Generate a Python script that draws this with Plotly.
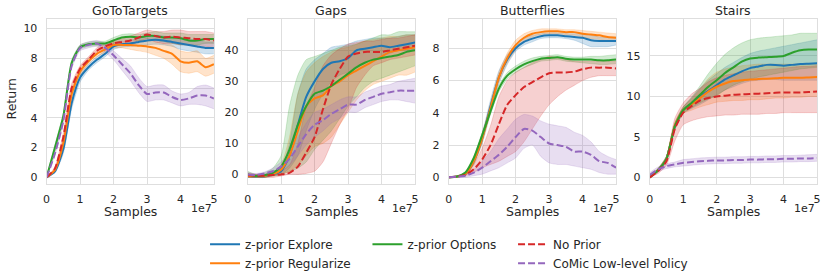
import plotly.graph_objects as go

# ---------------- data (x in units of 1e7 samples) ----------------
SAMPLES_1E7 = [0, 0.25, 0.5, 0.75, 1.0, 1.25, 1.5, 1.75, 2.0, 2.25, 2.5,
               2.75, 3.0, 3.25, 3.5, 3.75, 4.0, 4.25, 4.5, 4.75, 5.0]
X_TICKS = [0, 1, 2, 3, 4, 5]
X_TICK_LABELS = ["0", "1", "2", "3", "4", "5"]

SERIES = ["z-prior Explore", "z-prior Regularize", "z-prior Options",
          "No Prior", "CoMic Low-level Policy"]
PANELS = ["GoToTargets", "Gaps", "Butterflies", "Stairs"]

# GoToTargets
gtt_explore = [0, 0.4, 1.9, 5.0, 6.7, 7.4, 7.9, 8.3, 8.8, 8.95, 9.0, 9.1, 9.2, 9.25, 9.2, 9.1, 9.0, 8.9, 8.8, 8.7, 8.7]
gtt_explore_lo = [0, 0.3, 1.6, 4.6, 6.4, 7.2, 7.7, 8.1, 8.6, 8.75, 8.8, 8.85, 8.9, 8.95, 8.9, 8.8, 8.6, 8.5, 8.4, 8.3, 8.3]
gtt_explore_hi = [0, 0.5, 2.2, 5.4, 7.0, 7.6, 8.1, 8.5, 9.0, 9.15, 9.2, 9.35, 9.5, 9.55, 9.5, 9.4, 9.4, 9.3, 9.2, 9.1, 9.1]
gtt_regularize = [0, 0.5, 2.3, 5.6, 7.1, 7.8, 8.3, 8.6, 8.9, 8.9, 8.9, 8.85, 8.8, 8.7, 8.5, 8.3, 7.8, 7.7, 7.8, 7.4, 7.6]
gtt_regularize_lo = [0, 0.4, 2.0, 5.2, 6.8, 7.6, 8.1, 8.4, 8.7, 8.7, 8.6, 8.5, 8.4, 8.2, 8.0, 7.6, 7.1, 7.0, 7.1, 6.8, 7.0]
gtt_regularize_hi = [0, 0.6, 2.6, 6.0, 7.4, 8.0, 8.5, 8.8, 9.1, 9.1, 9.2, 9.2, 9.2, 9.1, 9.0, 8.9, 8.5, 8.4, 8.5, 8.0, 8.2]
gtt_options = [0, 2.0, 4.1, 7.7, 8.75, 8.95, 9.0, 9.0, 9.2, 9.4, 9.45, 9.4, 9.5, 9.5, 9.4, 9.4, 9.35, 9.2, 9.2, 9.3, 9.3]
gtt_options_lo = [0, 1.8, 3.9, 7.5, 8.6, 8.8, 8.85, 8.85, 9.0, 9.2, 9.25, 9.2, 9.3, 9.2, 9.1, 9.0, 8.9, 8.9, 8.9, 9.0, 9.0]
gtt_options_hi = [0, 2.2, 4.3, 7.9, 8.9, 9.1, 9.15, 9.15, 9.4, 9.6, 9.65, 9.6, 9.7, 9.8, 9.7, 9.7, 9.7, 9.6, 9.6, 9.6, 9.6]
gtt_noprior = [0, 0.6, 2.7, 6.0, 7.3, 7.9, 8.5, 8.8, 9.0, 9.1, 9.2, 9.4, 9.6, 9.5, 9.4, 9.45, 9.4, 9.35, 9.3, 9.3, 9.2]
gtt_noprior_lo = [0, 0.5, 2.4, 5.7, 7.1, 7.7, 8.3, 8.6, 8.8, 8.9, 8.9, 9.1, 9.3, 9.1, 9.0, 9.0, 8.9, 8.9, 8.8, 8.8, 8.7]
gtt_noprior_hi = [0, 0.7, 3.0, 6.3, 7.5, 8.1, 8.7, 9.0, 9.2, 9.3, 9.5, 9.7, 9.9, 9.8, 9.8, 9.9, 9.9, 9.8, 9.8, 9.8, 9.7]
gtt_comic = [0, 1.6, 3.8, 7.5, 8.7, 8.9, 9.0, 8.7, 8.2, 7.6, 7.0, 6.2, 5.6, 5.7, 5.7, 5.4, 5.2, 5.3, 5.5, 5.5, 5.3]
gtt_comic_lo = [0, 1.5, 3.6, 7.3, 8.5, 8.7, 8.8, 8.4, 7.9, 7.2, 6.5, 5.7, 5.1, 5.2, 5.2, 5.0, 4.8, 4.9, 4.9, 4.8, 4.6]
gtt_comic_hi = [0, 1.7, 4.0, 7.7, 8.9, 9.1, 9.2, 9.0, 8.5, 8.0, 7.5, 6.7, 6.1, 6.2, 6.2, 5.8, 5.6, 5.7, 6.1, 6.2, 6.0]

# Gaps
gaps_explore = [-0.5, -0.7, -0.6, 0, 1.0, 6, 16, 25, 30, 34, 36, 36.5, 37.5, 40, 40.5, 41, 41.5, 41, 41.5, 42, 42.5]
gaps_explore_lo = [-1, -1, -1, -0.5, 0, 2, 6, 14, 21, 26, 30, 32, 33, 35, 36, 37, 38, 39, 40, 40, 40]
gaps_explore_hi = [0, 0, 0, 1, 2, 10, 26, 34, 37, 39, 41, 41.5, 42, 43, 43.5, 44, 44, 44, 44.5, 45, 45]
gaps_regularize = [-0.5, -0.6, -0.5, 0, 1.5, 6, 14, 22, 24.5, 25.5, 28.5, 30, 32, 33.5, 35, 36.5, 38, 39.5, 40, 40.5, 41]
gaps_regularize_lo = [-1, -1, -1, -0.5, 0, 1, 3, 6, 9, 10, 12, 16, 20, 24, 27, 29, 30, 31, 32, 32, 33]
gaps_regularize_hi = [0, 0, 0, 0.5, 3, 12, 26, 33, 36, 38, 39.5, 40.5, 41, 42, 43, 43.5, 44, 44.5, 44.5, 45, 45]
gaps_options = [0, -0.5, -0.3, 0.5, 2.5, 8, 16, 22, 26, 27, 28.5, 30.5, 32.5, 34.5, 36, 37, 37.5, 38, 38.5, 39.5, 40]
gaps_options_lo = [-1, -1, -1, -0.5, 0, 1, 2, 4, 8, 11, 14, 18, 22, 25, 28, 30, 31, 32, 33, 34, 35]
gaps_options_hi = [1, 0, 0.5, 2, 6, 22, 32, 37, 38, 39, 40, 41, 41.5, 42, 43, 44, 45, 45, 46, 46, 46]
gaps_noprior = [-0.3, -0.4, -0.4, -0.2, 0, 0.5, 2.5, 7, 12, 21, 29, 34, 38, 39, 39.5, 39.5, 39.5, 40, 40.5, 41, 41.5]
gaps_noprior_lo = [-1, -1, -1, -1, -0.5, 0, 0, 0.3, 1, 4, 10, 16, 21, 28, 32, 35, 36, 37, 37.5, 38, 38.5]
gaps_noprior_hi = [0.5, 0, 0, 0.5, 1, 3, 10, 22, 28, 35, 38.5, 40.5, 42, 42.5, 43, 43, 43.5, 44, 44, 44.5, 45]
gaps_comic = [0, -0.2, 0.3, 1, 2.5, 5, 9, 13, 16, 17.5, 19.5, 21, 22.5, 22.5, 24, 25, 26, 26.5, 27, 27, 27]
gaps_comic_lo = [-0.5, -0.7, -0.2, 0, 1, 3, 6, 9.5, 12, 14, 16.5, 18, 20, 20, 21.5, 22.5, 23.5, 24, 24, 23.5, 23]
gaps_comic_hi = [0.5, 0.3, 0.8, 2, 4, 7, 12, 16.5, 20, 21, 22.5, 24, 25, 25, 26.5, 27.5, 28.5, 29, 30, 30.5, 31]

# Butterflies
bf_explore = [0, 0.05, 0.2, 1.0, 2.4, 4.4, 6.2, 7.3, 8.0, 8.4, 8.6, 8.75, 8.8, 8.8, 8.75, 8.7, 8.65, 8.5, 8.45, 8.45, 8.45]
bf_explore_lo = [0, 0.03, 0.15, 0.8, 2.1, 4.0, 5.8, 7.0, 7.8, 8.2, 8.4, 8.6, 8.65, 8.65, 8.6, 8.5, 8.3, 8.1, 8.1, 8.1, 8.2]
bf_explore_hi = [0, 0.07, 0.25, 1.2, 2.7, 4.8, 6.6, 7.6, 8.2, 8.6, 8.8, 8.9, 8.95, 8.95, 8.9, 8.9, 8.9, 8.8, 8.7, 8.7, 8.7]
bf_regularize = [0, 0.05, 0.2, 1.0, 2.4, 4.3, 6.2, 7.4, 8.2, 8.65, 8.9, 9.0, 9.05, 9.05, 9.0, 9.0, 8.9, 8.85, 8.8, 8.7, 8.65]
bf_regularize_lo = [0, 0.03, 0.15, 0.8, 2.1, 4.0, 5.9, 7.1, 7.9, 8.4, 8.7, 8.85, 8.9, 8.9, 8.85, 8.8, 8.7, 8.6, 8.55, 8.45, 8.4]
bf_regularize_hi = [0, 0.07, 0.25, 1.2, 2.7, 4.6, 6.5, 7.7, 8.5, 8.9, 9.1, 9.2, 9.2, 9.2, 9.15, 9.15, 9.1, 9.05, 9.0, 8.95, 8.9]
bf_options = [0, 0.05, 0.3, 1.2, 2.6, 4.1, 5.5, 6.3, 6.7, 7.0, 7.2, 7.35, 7.4, 7.45, 7.35, 7.3, 7.3, 7.3, 7.25, 7.25, 7.3]
bf_options_lo = [0, 0.03, 0.25, 1.1, 2.4, 3.9, 5.3, 6.1, 6.5, 6.8, 7.0, 7.2, 7.25, 7.3, 7.2, 7.15, 7.1, 7.05, 7.0, 7.0, 7.05]
bf_options_hi = [0, 0.07, 0.35, 1.3, 2.8, 4.3, 5.7, 6.5, 6.9, 7.2, 7.4, 7.5, 7.55, 7.6, 7.5, 7.45, 7.45, 7.5, 7.5, 7.55, 7.6]
bf_noprior = [0, 0.05, 0.15, 0.5, 1.1, 2.0, 3.3, 4.5, 5.1, 5.6, 5.9, 6.2, 6.45, 6.5, 6.5, 6.55, 6.7, 6.8, 6.8, 6.8, 6.75]
bf_noprior_lo = [0, 0, 0.1, 0.3, 0.6, 0.8, 1.0, 1.3, 1.6, 2.2, 3.0, 3.8, 4.5, 5.0, 5.4, 5.7, 6.0, 6.2, 6.3, 6.3, 6.3]
bf_noprior_hi = [0, 0.1, 0.3, 0.8, 1.8, 3.2, 5.0, 6.0, 6.5, 6.8, 7.1, 7.3, 7.5, 7.4, 7.3, 7.2, 7.2, 7.2, 7.2, 7.2, 7.2]
bf_comic = [0, 0.05, 0.1, 0.3, 0.6, 1.0, 1.4, 1.9, 2.5, 3.0, 2.9, 2.5, 2.1, 2.0, 1.9, 1.6, 1.6, 1.4, 1.0, 0.9, 0.6]
bf_comic_lo = [0, 0, 0, 0.1, 0.2, 0.4, 0.6, 0.9, 1.2, 1.8, 2.0, 1.3, 0.9, 0.8, 0.8, 0.7, 0.6, 0.5, 0.3, 0.2, 0.2]
bf_comic_hi = [0, 0.1, 0.2, 0.5, 1.0, 1.6, 2.4, 3.0, 3.6, 3.9, 3.8, 3.5, 3.3, 3.2, 3.1, 2.8, 2.6, 2.2, 1.6, 1.3, 1.1]

# Stairs
st_explore = [0, 0.9, 2.3, 6.3, 8.3, 9.1, 10.0, 10.7, 11.4, 12.1, 12.6, 13.1, 13.5, 13.7, 13.9, 13.9, 13.8, 13.9, 14.0, 14.05, 14.1]
st_explore_lo = [0, 0.7, 2.0, 5.9, 7.9, 8.5, 9.0, 9.6, 10.2, 10.8, 11.2, 11.6, 11.9, 12.0, 12.1, 12.1, 12.0, 12.0, 12.0, 12.0, 12.0]
st_explore_hi = [0, 1.1, 2.6, 6.7, 8.7, 9.8, 11.0, 12.0, 12.8, 13.6, 14.2, 14.8, 15.3, 15.6, 15.8, 16.0, 16.2, 16.4, 16.6, 16.8, 17.0]
st_regularize = [0, 0.9, 2.3, 6.4, 8.3, 9.0, 9.8, 10.6, 11.2, 11.6, 11.9, 12.0, 12.1, 12.15, 12.2, 12.25, 12.3, 12.3, 12.3, 12.35, 12.4]
st_regularize_lo = [0, 0.7, 2.0, 6.0, 7.9, 8.3, 8.7, 9.0, 9.3, 9.4, 9.5, 9.5, 9.6, 9.6, 9.7, 9.8, 9.8, 9.9, 9.9, 10.0, 10.0]
st_regularize_hi = [0, 1.1, 2.6, 6.8, 8.7, 9.7, 10.9, 12.2, 13.0, 13.4, 13.6, 13.8, 13.9, 14.0, 14.0, 14.0, 14.0, 14.0, 14.0, 14.0, 14.0]
st_options = [0, 0.9, 2.3, 6.3, 8.3, 9.2, 10.2, 11.2, 12.0, 12.9, 13.6, 14.3, 14.7, 14.8, 14.85, 14.9, 15.0, 15.4, 15.7, 15.8, 15.8]
st_options_lo = [0, 0.7, 2.0, 5.9, 7.9, 8.6, 9.2, 9.7, 10.1, 10.8, 11.4, 11.8, 12.1, 12.4, 12.6, 12.8, 13.0, 13.2, 13.4, 13.5, 13.6]
st_options_hi = [0, 1.1, 2.6, 6.7, 8.7, 9.9, 11.3, 12.8, 14.1, 15.2, 16.0, 16.6, 17.0, 17.2, 17.3, 17.4, 17.5, 17.6, 17.8, 17.8, 17.8]
st_noprior = [0, 0.8, 2.0, 6.0, 8.0, 8.8, 9.5, 9.8, 10.0, 10.1, 10.2, 10.25, 10.3, 10.35, 10.4, 10.45, 10.5, 10.5, 10.5, 10.55, 10.6]
st_noprior_lo = [0, 0.5, 1.5, 4.5, 6.5, 7.0, 7.3, 7.5, 7.6, 7.7, 7.7, 7.8, 7.8, 7.8, 7.9, 7.9, 8.0, 8.0, 8.0, 8.0, 8.0]
st_noprior_hi = [0.3, 1.1, 2.6, 7.3, 9.2, 10.3, 11.0, 11.8, 12.3, 12.6, 12.8, 13.0, 13.1, 13.2, 13.3, 13.4, 13.5, 13.6, 13.7, 13.7, 13.8]
st_comic = [0.3, 1.0, 1.4, 1.6, 1.8, 1.9, 2.0, 2.05, 2.1, 2.1, 2.15, 2.15, 2.2, 2.2, 2.25, 2.25, 2.3, 2.3, 2.35, 2.35, 2.4]
st_comic_lo = [0.0, 0.7, 1.1, 1.3, 1.4, 1.5, 1.6, 1.65, 1.7, 1.7, 1.75, 1.75, 1.8, 1.8, 1.85, 1.85, 1.9, 1.9, 1.95, 1.95, 2.0]
st_comic_hi = [0.6, 1.3, 1.7, 1.9, 2.2, 2.3, 2.4, 2.45, 2.5, 2.5, 2.55, 2.55, 2.6, 2.6, 2.65, 2.65, 2.7, 2.7, 2.75, 2.8, 2.85]

PANEL_DATA = [
    [(gtt_explore, gtt_explore_lo, gtt_explore_hi), (gtt_regularize, gtt_regularize_lo, gtt_regularize_hi),
     (gtt_options, gtt_options_lo, gtt_options_hi), (gtt_noprior, gtt_noprior_lo, gtt_noprior_hi),
     (gtt_comic, gtt_comic_lo, gtt_comic_hi)],
    [(gaps_explore, gaps_explore_lo, gaps_explore_hi), (gaps_regularize, gaps_regularize_lo, gaps_regularize_hi),
     (gaps_options, gaps_options_lo, gaps_options_hi), (gaps_noprior, gaps_noprior_lo, gaps_noprior_hi),
     (gaps_comic, gaps_comic_lo, gaps_comic_hi)],
    [(bf_explore, bf_explore_lo, bf_explore_hi), (bf_regularize, bf_regularize_lo, bf_regularize_hi),
     (bf_options, bf_options_lo, bf_options_hi), (bf_noprior, bf_noprior_lo, bf_noprior_hi),
     (bf_comic, bf_comic_lo, bf_comic_hi)],
    [(st_explore, st_explore_lo, st_explore_hi), (st_regularize, st_regularize_lo, st_regularize_hi),
     (st_options, st_options_lo, st_options_hi), (st_noprior, st_noprior_lo, st_noprior_hi),
     (st_comic, st_comic_lo, st_comic_hi)],
]
Y_TICKS = [[0, 2, 4, 6, 8, 10], [0, 10, 20, 30, 40], [0, 2, 4, 6, 8], [0, 5, 10, 15]]
Y_RANGES = [[-0.47, 10.66], [-3.2, 50.2], [-0.43, 9.83], [-0.85, 19.6]]

# ---------------- styling ----------------
COLORS = ["31,119,180", "255,127,14", "44,160,44", "214,39,40", "148,103,189"]
DASHES = ["solid", "solid", "solid", "7px,3px", "7px,3px"]
LEGENDS = ["legend", "legend", "legend2", "legend3", "legend3"]
W, H = 830, 278
X_DOMAINS_PX = [(43, 212), (246, 415), (449, 618), (652, 821)]
Y_DOMAIN_PX = (19, 187)
FONT = "DejaVu Sans"
TXT = "#262626"
GRID = "#dedede"


def px_x(v):
    return v / W


def px_y(v):
    return 1 - v / H


fig = go.Figure()
ydom = [px_y(Y_DOMAIN_PX[1]), px_y(Y_DOMAIN_PX[0])]

for p, panel in enumerate(PANELS):
    xa = "x" if p == 0 else f"x{p+1}"
    ya = "y" if p == 0 else f"y{p+1}"
    for s, name in enumerate(SERIES):
        mean, lo, hi = PANEL_DATA[p][s]
        c = COLORS[s]
        fig.add_trace(go.Scatter(x=SAMPLES_1E7, y=lo, xaxis=xa, yaxis=ya, mode="lines",
                                 line=dict(width=0.6, color=f"rgba({c},0.3)", shape="spline", smoothing=0.6),
                                 showlegend=False, hoverinfo="skip"))
        fig.add_trace(go.Scatter(x=SAMPLES_1E7, y=hi, xaxis=xa, yaxis=ya, mode="lines",
                                 line=dict(width=0.6, color=f"rgba({c},0.3)", shape="spline", smoothing=0.6),
                                 fill="tonexty", fillcolor=f"rgba({c},0.22)",
                                 showlegend=False, hoverinfo="skip"))
    for s, name in enumerate(SERIES):
        mean, lo, hi = PANEL_DATA[p][s]
        c = COLORS[s]
        fig.add_trace(go.Scatter(x=SAMPLES_1E7, y=mean, xaxis=xa, yaxis=ya, mode="lines", name=name,
                                 line=dict(width=2, color=f"rgb({c})", dash=DASHES[s], shape="spline", smoothing=0.6),
                                 showlegend=(p == 0), legend=LEGENDS[s]))

    x0, x1 = X_DOMAINS_PX[p]
    xkey = "xaxis" if p == 0 else f"xaxis{p+1}"
    ykey = "yaxis" if p == 0 else f"yaxis{p+1}"
    fig.layout[xkey] = dict(domain=[px_x(x0), px_x(x1)], anchor=ya, range=[0, 5],
                            tickvals=X_TICKS, ticktext=X_TICK_LABELS,
                            showgrid=True, gridcolor=GRID, gridwidth=1, zeroline=False,
                            showline=True, linecolor=GRID, linewidth=1, mirror=True,
                            ticks="", ticklabelstandoff=4,
                            tickfont=dict(family=FONT, size=11, color=TXT))
    fig.layout[ykey] = dict(domain=ydom, anchor=xa, range=Y_RANGES[p], tickvals=Y_TICKS[p],
                            showgrid=True, gridcolor=GRID, gridwidth=1, zeroline=False,
                            showline=True, linecolor=GRID, linewidth=1, mirror=True,
                            ticks="", ticklabelstandoff=6,
                            tickfont=dict(family=FONT, size=11, color=TXT))
    cx = px_x((x0 + x1) / 2)
    fig.add_annotation(text=panel, x=cx, y=px_y(11), xref="paper", yref="paper",
                       xanchor="center", yanchor="middle", showarrow=False,
                       font=dict(family=FONT, size=12.5, color=TXT))
    fig.add_annotation(text="Samples", x=cx, y=px_y(206), xref="paper", yref="paper",
                       xanchor="center", yanchor="top", showarrow=False, borderpad=0,
                       font=dict(family=FONT, size=12.5, color=TXT))
    fig.add_annotation(text="1e7", x=px_x(x1), y=px_y(212), xref="paper", yref="paper",
                       xanchor="right", yanchor="middle", showarrow=False,
                       font=dict(family=FONT, size=11, color=TXT))

fig.add_annotation(text="Return", x=px_x(8), y=px_y(100), xref="paper", yref="paper",
                   xanchor="center", yanchor="middle", textangle=-90, showarrow=False,
                   font=dict(family=FONT, size=12.5, color=TXT))

leg_common = dict(orientation="v", yanchor="top", xanchor="left", y=px_y(233),
                  bgcolor="rgba(0,0,0,0)", borderwidth=0, traceorder="normal",
                  font=dict(family=FONT, size=12, color=TXT), tracegroupgap=0)
fig.update_layout(
    width=W, height=H, margin=dict(l=0, r=0, t=0, b=0),
    paper_bgcolor="white", plot_bgcolor="white",
    legend=dict(x=px_x(203), **leg_common),
    legend2=dict(x=px_x(367), **leg_common),
    legend3=dict(x=px_x(514), **leg_common),
)

# remove the browser's default 8px body margin so the 830x278 figure fills the window
fig.write_html("out.html", config={"displayModeBar": False},
               post_script="document.body.style.margin='0';")
